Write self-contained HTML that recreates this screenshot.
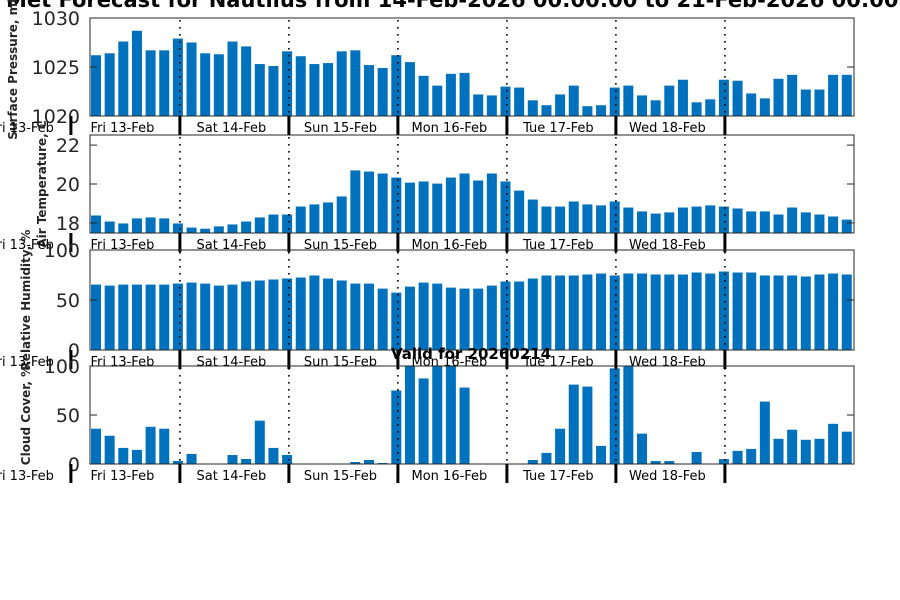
<!DOCTYPE html>
<html><head><meta charset="utf-8"><style>
html,body{margin:0;padding:0;background:#fff;}
svg{display:block;font-family:"DejaVu Sans","Liberation Sans",sans-serif;}
</style></head><body>
<svg id="chart" width="900" height="600" viewBox="0 0 900 600">
<text x="6" y="7" text-anchor="start" font-size="21" font-weight="bold" fill="#000">Met Forecast for Nautilus from 14-Feb-2026 00:00:00 to 21-Feb-2026 00:00:00</text>
</svg>
<script>
const pressure=[1026.2,1026.4,1027.6,1028.7,1026.7,1026.7,1027.9,1027.5,1026.4,1026.3,1027.6,1027.1,1025.3,1025.1,1026.6,1026.1,1025.3,1025.4,1026.6,1026.7,1025.2,1024.9,1026.2,1025.5,1024.1,1023.1,1024.3,1024.4,1022.2,1022.1,1023.0,1022.9,1021.6,1021.1,1022.2,1023.1,1021.0,1021.1,1022.9,1023.1,1022.1,1021.6,1023.1,1023.7,1021.4,1021.7,1023.7,1023.6,1022.3,1021.8,1023.8,1024.2,1022.7,1022.7,1024.2,1024.2];
const temperature=[18.38,18.07,17.97,18.23,18.28,18.23,17.97,17.76,17.7,17.82,17.92,18.07,18.28,18.43,18.43,18.84,18.95,19.05,19.36,20.70,20.64,20.54,20.33,20.07,20.13,20.02,20.33,20.54,20.18,20.54,20.13,19.66,19.2,18.84,18.84,19.1,18.95,18.9,19.1,18.79,18.59,18.48,18.54,18.79,18.84,18.9,18.84,18.74,18.59,18.59,18.43,18.79,18.54,18.43,18.33,18.17];
const humidity=[65.4,64.4,65.4,65.4,65.4,65.4,66.4,67.4,66.4,64.4,65.4,68.5,69.5,70.5,71.5,72.5,74.5,71.5,69.5,66.4,66.4,61.4,57.4,63.4,67.4,66.4,62.4,61.4,61.4,64.4,68.5,68.5,71.5,74.5,74.5,74.5,75.5,76.5,74.5,76.5,76.5,75.5,75.5,75.5,77.5,76.5,78.5,77.5,77.5,74.5,74.5,74.5,73.5,75.5,76.5,75.5];
const cloud=[36,28.8,16.4,14.4,38,36,3.1,10.3,0,0,9.2,5.1,44.2,16.4,9.2,0,0,0,0,2,4.1,1,75,100,87.3,100,100,78,0,0,0,0,4.1,11.3,36,81,79,18.5,97.6,100,31,3,3,0,12.3,0,5,13.4,15.4,63.7,25.7,35,24.7,25.7,41,33];
const dayLabels=["Fri 13-Feb","Fri 13-Feb","Sat 14-Feb","Sun 15-Feb","Mon 16-Feb","Tue 17-Feb","Wed 18-Feb"];
const pressureTicks=[1020,1025,1030];
const tempTicks=[18,20,22];
const pctTicks=[0,50,100];

const NS="http://www.w3.org/2000/svg";
const svg=document.getElementById('chart');
function mk(tag,attrs,parent){const e=document.createElementNS(NS,tag);for(const k in attrs)e.setAttribute(k,attrs[k]);(parent||svg).appendChild(e);return e;}
const X0=90,X1=854,STEP=13.65,FIRST=96,BW=10;
function xScale(i){return FIRST+i*STEP;}
const sepIdx=[6,14,22,30,38,46];
function sepX(k){return xScale(sepIdx[0])+2+k*109;}
const panels=[
 {name:'pressure',data:pressure,ticks:pressureTicks,min:1020,max:1030,top:18,bot:116,label:'Surface Pressure, mb',lx:13},
 {name:'temperature',data:temperature,ticks:tempTicks,min:17.48,max:22.52,top:135,bot:233,label:'Air Temperature, C',lx:42},
 {name:'humidity',data:humidity,ticks:pctTicks,min:0,max:100,top:250,bot:350,label:'Relative Humidity, %',lx:26},
 {name:'cloud',data:cloud,ticks:pctTicks,min:0,max:100,top:366,bot:464,label:'Cloud Cover, %',lx:26}
];
panels.forEach(p=>{
  const g=mk('g',{});
  
  
  const y=v=>p.bot-(v-p.min)/(p.max-p.min)*(p.bot-p.top);
  p.data.forEach((v,i)=>{
    const yy=Math.max(p.top,Math.min(p.bot,y(v)));
    const r=mk('rect',{x:xScale(i)-BW/2,y:yy,width:BW,height:p.bot-yy,fill:'#0072bd'},g);
    
    
  });
  for(let k=0;k<6;k++){
    const sx=sepX(k);
    const l=mk('line',{x1:sx,x2:sx,y1:p.top+2,y2:p.bot,stroke:'#000','stroke-width':1.6,'stroke-dasharray':'1.6 5.4'},g);
    
    
  }
  const fr=mk('rect',{x:X0,y:p.top,width:X1-X0,height:p.bot-p.top,fill:'none',stroke:'#262626','stroke-width':1},g);
  
  
  p.ticks.forEach(t=>{
    const ty=y(t);
    mk('line',{x1:X0,x2:X0+7,y1:ty,y2:ty,stroke:'#262626'},g);
    mk('line',{x1:X1-7,x2:X1,y1:ty,y2:ty,stroke:'#262626'},g);
    const tl=mk('text',{x:80,y:ty+7,'text-anchor':'end','font-size':19,fill:'#262626'},g);
    tl.textContent=t;
    
    
  });
  const cy=(p.top+p.bot)/2;
  const yl=mk('text',{x:p.lx,y:cy,'text-anchor':'middle','font-size':12,'font-weight':'bold',fill:'#262626',transform:`rotate(-90 ${p.lx} ${cy})`,dy:4},g);
  yl.textContent=p.label;
  
  
  for(let k=-1;k<6;k++){
    const sx=sepX(k);
    mk('line',{x1:sx,x2:sx,y1:p.bot,y2:p.bot+19,stroke:'#000','stroke-width':3},g);
  }
  dayLabels.forEach((d,k)=>{
    const cx=k===0?22:sepX(k-2)+54.5-3;
    const dl=mk('text',{x:cx,y:p.bot+16,'text-anchor':'middle','font-size':13,fill:'#000'},g);
    dl.textContent=d;
    
    
  });
});
const vt=mk('text',{x:471,y:359,'text-anchor':'middle','font-size':15,'font-weight':'bold',fill:'#000'});
vt.textContent='Valid for 20260214';


</script>
</body></html>
